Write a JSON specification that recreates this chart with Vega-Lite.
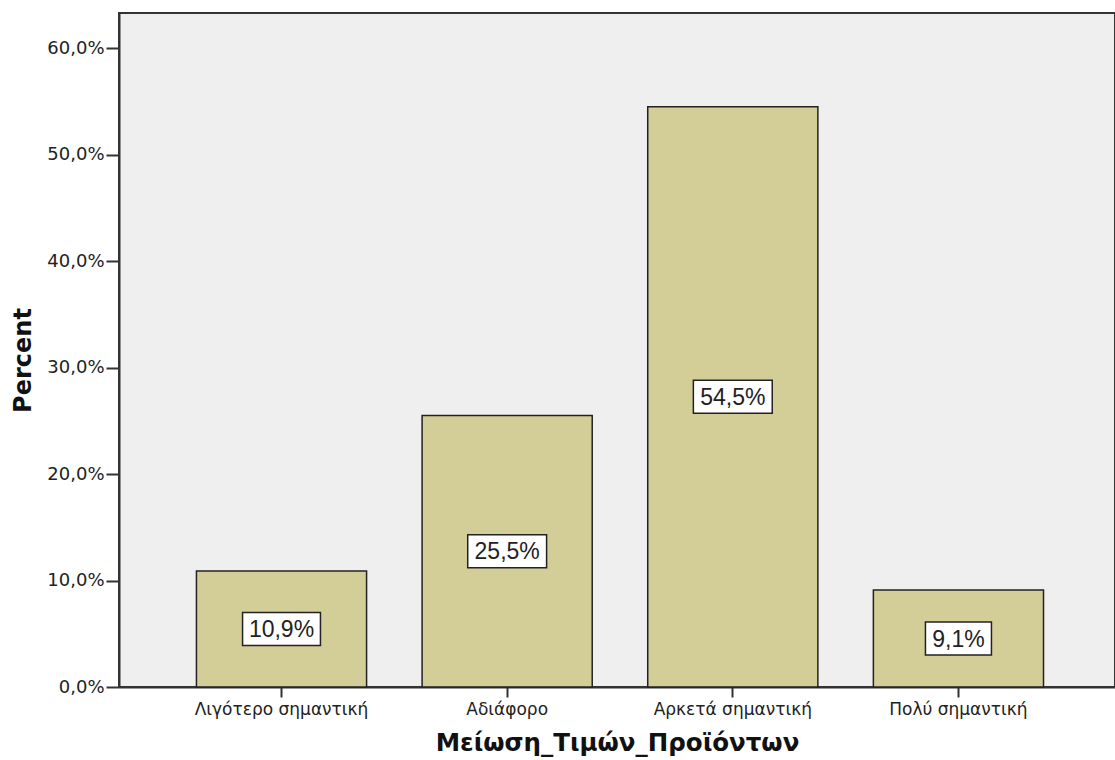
{
  "$schema": "https://vega.github.io/schema/vega-lite/v6.json",
  "autosize": {"type": "none"},
  "width": 996,
  "height": 674,
  "padding": {"left": 119, "top": 13, "right": 0, "bottom": 73},
  "background": "#ffffff",
  "config": {
    "locale": {"number": {"decimal": ",", "thousands": ".", "grouping": [3], "currency": ["", " €"]}},
    "view": {"fill": "#efefef", "stroke": "#333333", "strokeWidth": 2},
    "font": "DejaVu Sans"
  },
  "data": {
    "values": [
      {"category": "Λιγότερο σημαντική", "value": 0.109},
      {"category": "Αδιάφορο", "value": 0.255},
      {"category": "Αρκετά σημαντική", "value": 0.545},
      {"category": "Πολύ σημαντική", "value": 0.091}
    ]
  },
  "encoding": {
    "x": {
      "field": "category",
      "type": "nominal",
      "sort": null,
      "scale": {"paddingInner": 0.246, "paddingOuter": 0.33, "align": 0.52},
      "axis": {
        "title": "Μείωση_Τιμών_Προϊόντων",
        "titleFont": "DejaVu Sans",
        "titleFontWeight": "bold",
        "titleFontSize": 24.5,
        "titleColor": "#111111",
        "titlePadding": 14,
        "labelAngle": 0,
        "labelFont": "DejaVu Sans",
        "labelFontSize": 17,
        "labelColor": "#222222",
        "labelPadding": 4,
        "tickSize": 10,
        "tickColor": "#333333",
        "tickWidth": 2,
        "domainColor": "#333333",
        "domainWidth": 2
      }
    }
  },
  "layer": [
    {
      "mark": {"type": "bar", "fill": "#d3ce97", "stroke": "#222222", "strokeWidth": 1.5},
      "encoding": {
        "y": {
          "field": "value",
          "type": "quantitative",
          "scale": {"domain": [0, 0.633], "nice": false},
          "axis": {
            "title": "Percent",
            "titleFont": "DejaVu Sans",
            "titleFontWeight": "bold",
            "titleFontSize": 24,
            "titleColor": "#111111",
            "titleAngle": -90,
            "titleX": -96,
            "titleY": 347,
            "titleAlign": "center",
            "titleBaseline": "middle",
            "values": [0, 0.1, 0.2, 0.3, 0.4, 0.5, 0.6],
            "format": ".1%",
            "labelFont": "DejaVu Sans",
            "labelFontSize": 18,
            "labelColor": "#222222",
            "labelPadding": 2,
            "tickSize": 13,
            "tickColor": "#333333",
            "tickWidth": 2,
            "domainColor": "#333333",
            "domainWidth": 2,
            "grid": false
          }
        }
      }
    },
    {
      "transform": [{"calculate": "datum.value / 2", "as": "mid"}],
      "mark": {"type": "point", "filled": true, "fill": "#ffffff", "stroke": "#222222", "strokeWidth": 1.5, "opacity": 1, "size": 1089},
      "encoding": {
        "y": {"field": "mid", "type": "quantitative"},
        "shape": {
          "field": "category",
          "type": "nominal",
          "legend": null,
          "scale": {
            "domain": ["Λιγότερο σημαντική", "Αδιάφορο", "Αρκετά σημαντική", "Πολύ σημαντική"],
            "range": ["M-2.36,-1H2.36V1H-2.36Z", "M-2.39,-1H2.39V1H-2.39Z", "M-2.39,-1H2.39V1H-2.39Z", "M-2,-1H2V1H-2Z"]
          }
        }
      }
    },
    {
      "transform": [{"calculate": "datum.value / 2", "as": "mid"}],
      "mark": {"type": "text", "fontSize": 23, "font": "Liberation Sans", "color": "#222222", "baseline": "middle", "align": "center", "dy": 1},
      "encoding": {
        "y": {"field": "mid", "type": "quantitative"},
        "text": {"field": "value", "type": "quantitative", "format": ".1%"}
      }
    }
  ]
}
